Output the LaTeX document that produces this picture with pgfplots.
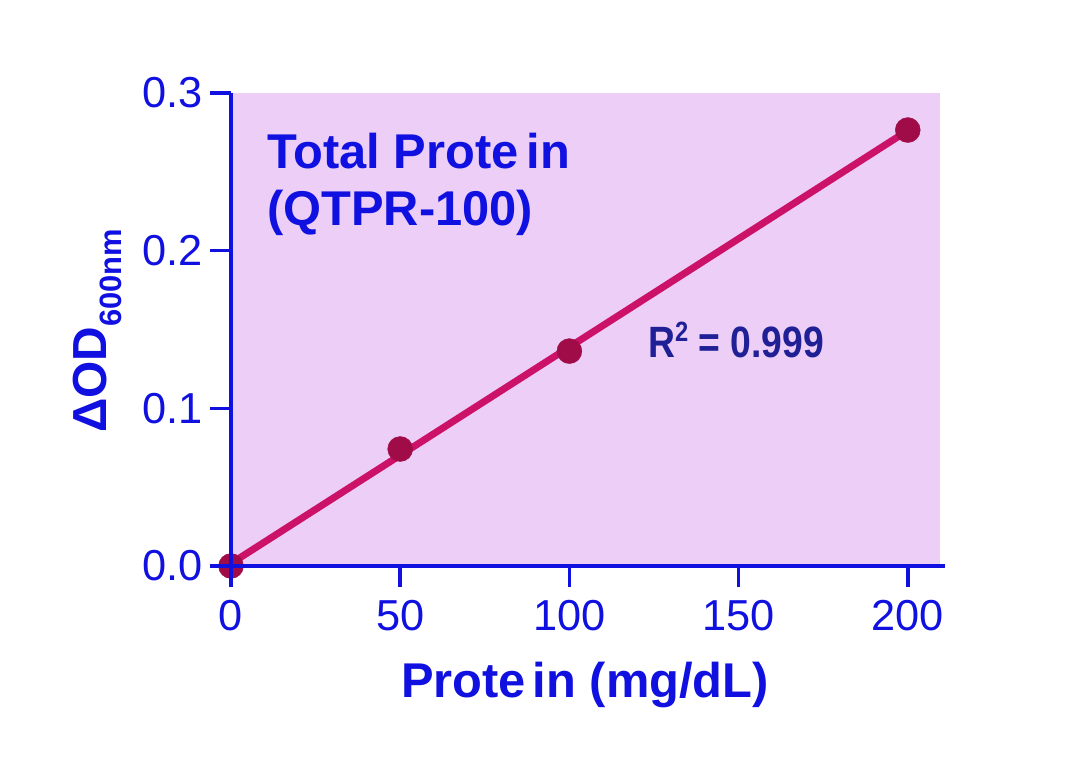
\documentclass[border=0pt]{standalone}
\usepackage{fontspec}
\setmainfont{Liberation Sans}
\usepackage{pgfplots}
\pgfplotsset{compat=1.18}
\definecolor{axisblue}{RGB}{16,16,224}
\definecolor{navy}{RGB}{32,32,150}
\definecolor{bgfill}{RGB}{236,206,246}
\definecolor{linecol}{RGB}{204,18,104}
\definecolor{markcol}{RGB}{160,12,72}
\begin{document}
\begin{tikzpicture}
\begin{axis}[
  at={(0,0)}, anchor=south west,
  scale only axis,
  width=714bp, height=473bp,
  xmin=0, xmax=211, ymin=0, ymax=0.3,
  axis x line=bottom, axis y line=left,
  axis line style={axisblue, line width=3.5bp, -},
  xtick={0,50,100,150,200}, ytick={0,0.1,0.2,0.3},
  tick align=outside, major tick length=21bp,
  tick style={axisblue, line width=3.5bp},
  minor tick num=0,
  ticklabel style={font=\fontsize{43.5}{50}\selectfont, text=axisblue, inner sep=0pt},
  /pgf/number format/assume math mode=true,
  yticklabel style={/pgf/number format/fixed, /pgf/number format/fixed zerofill, /pgf/number format/precision=1, xshift=-7bp},
  xticklabel style={yshift=-13bp},
  clip=false, set layers=axis on top, axis on top,
]
\fill[bgfill] (axis cs:0,0) rectangle (axis cs:209.5,0.3);
\addplot[linecol, line width=7bp, no marks] coordinates {(0,0.0016) (200,0.2762)};
\addplot[only marks, mark=*, mark size=12.5bp, mark options={fill=markcol, draw=markcol}] coordinates {(0,0) (50,0.0742) (100,0.1363) (200,0.2765)};
\end{axis}
\node[anchor=base, inner sep=0pt, text=axisblue, font=\fontsize{49}{50}\selectfont\bfseries] at (354bp,-131bp) {Prote\kern7bp in (mg/dL)};
\node[anchor=base, rotate=90, inner sep=0pt, text=axisblue, font=\fontsize{48}{50}\selectfont\bfseries] at (-124bp,235bp) {ΔOD\raisebox{-15bp}{\fontsize{31}{32}\selectfont 600nm}};
\node[anchor=base west, inner sep=0pt, text=axisblue, font=\fontsize{49}{50}\selectfont\bfseries] at (36bp,397bp) {Total Prote\kern8bp in};
\node[anchor=base west, inner sep=0pt, text=axisblue, font=\fontsize{49}{50}\selectfont\bfseries] at (36bp,340bp) {(QTPR-100)};
\node[anchor=base west, inner sep=0pt, text=navy, font=\fontsize{44}{46}\selectfont\bfseries] at (417bp,208bp) {\scalebox{0.85}[1]{R\raisebox{16bp}{\fontsize{28}{30}\selectfont 2} = 0.999}};
\pgfresetboundingbox
\path (-231bp,-192bp) rectangle (855bp,566bp);
\end{tikzpicture}
\end{document}
